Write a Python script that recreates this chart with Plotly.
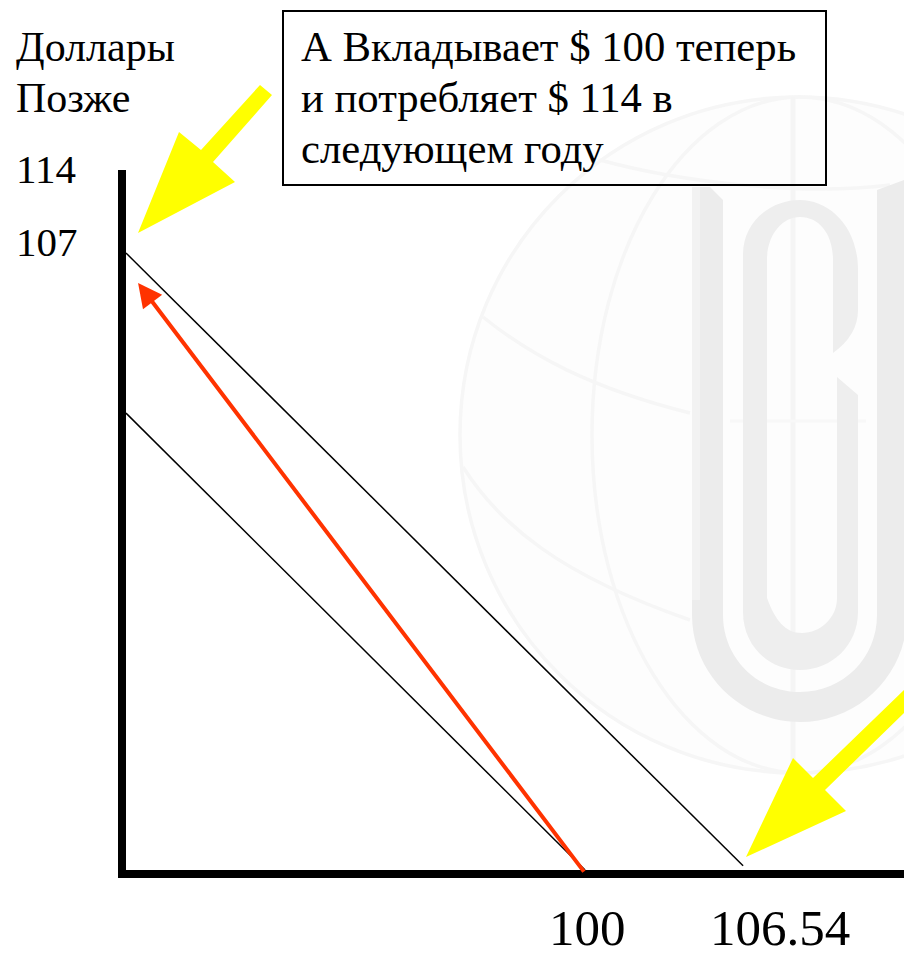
import plotly.graph_objects as go

# ---- chart values (dollars now / dollars later) ----
x_tick_values = [100, 106.54]
x_tick_labels = ["100", "106.54"]
y_tick_values = [114, 107]
y_tick_labels = ["114", "107"]
y_axis_title = ["Доллары", "Позже"]
callout_lines = ["А Вкладывает $ 100 теперь", "и потребляет $ 114 в", "следующем году"]

budget_now_x = [81.0, 100.0]
budget_now_y = [90.7, 46.9]
budget_later_x = [81.0, 106.54]
budget_later_y = [106.04, 47.3]
invest_from = (100.0, 46.6)
invest_to = (81.5, 103.17)

# Decorative arrows and watermark, in page pixels
yellow_arrow_top_x = [260, 272, 213, 235, 138, 179, 201]
yellow_arrow_top_y = [85, 95, 162, 182, 233, 132, 150]
yellow_arrow_bottom_x = [904, 813, 793, 746, 846, 825, 904]
yellow_arrow_bottom_y = [690, 778, 758, 857, 811, 790, 713]

W, H = 904, 957
FONT = "Liberation Serif"


def ellipse(cx, cy, rx, ry):
    k = 0.5523
    return (f"M {cx-rx} {cy} C {cx-rx} {cy-k*ry}, {cx-k*rx} {cy-ry}, {cx} {cy-ry} "
            f"C {cx+k*rx} {cy-ry}, {cx+rx} {cy-k*ry}, {cx+rx} {cy} "
            f"C {cx+rx} {cy+k*ry}, {cx+k*rx} {cy+ry}, {cx} {cy+ry} "
            f"C {cx-k*rx} {cy+ry}, {cx-rx} {cy+k*ry}, {cx-rx} {cy} Z")


THIN = "#f6f6f6"
BAND = "#ececec"
INNER = "#eeeeee"
page = dict(xref="x", yref="y", layer="below")
shapes = [
    dict(type="path", path=ellipse(798, 435, 338, 338), line=dict(color=THIN, width=3.5), fillcolor="#fdfdfd", **page),
    dict(type="path", path=ellipse(800, 435, 208, 338), line=dict(color=THIN, width=3.5), **page),
    dict(type="path", path="M 483 317 C 530 355, 590 388, 690 413", line=dict(color=THIN, width=3.5), **page),
    dict(type="path", path="M 463 467 C 500 525, 560 575, 690 620", line=dict(color=THIN, width=3.5), **page),
    dict(type="path", path="M 600 160 C 680 182, 800 196, 890 185", line=dict(color=THIN, width=3.5), **page),
    dict(type="path", path="M 793 97 L 793 770", line=dict(color="#f5f5f5", width=5), **page),
    dict(type="path", path="M 730 421 L 866 421", line=dict(color="#f8f8f8", width=3), **page),
    # outer U
    dict(type="path",
         path=("M 692 187 L 710 187 L 723 200 L 723 615 C 723 658, 757 692, 800 692 "
               "C 843 692, 877 658, 877 615 L 877 190 L 904 180 L 910 180 L 907 615 "
               "C 907 674, 859 722, 800 722 C 741 722, 692 674, 692 615 Z"),
         line=dict(width=0), fillcolor=BAND, **page),
    # lighter stripe on the outer left bar
    dict(type="path", path="M 692 187 L 700 187 L 700 600 L 692 600 Z", line=dict(width=0), fillcolor="#f2f2f2", **page),
    # inner letter: arch and U
    dict(type="path",
         path=("M 743 255 C 743 220, 772 200, 800 200 C 828 200, 858 225, 858 270 L 858 310 "
               "Q 858 335, 833 353 L 833 260 C 833 235, 820 217, 800 217 C 782 217, 767 235, 767 260 "
               "L 767 598 C 775 620, 785 633, 802 633 C 820 633, 837 618, 837 598 L 837 377 L 858 395 "
               "L 858 612 C 858 645, 832 670, 800 670 C 768 670, 743 645, 743 612 Z"),
         line=dict(width=0), fillcolor=INNER, **page),
    # callout box
    dict(type="rect", xref="x", yref="y", x0=283, x1=826, y0=11, y1=185,
         line=dict(color="black", width=2), layer="above"),
]

fig = go.Figure()
# Page layer: decorative polygons
for xs, ys in ((yellow_arrow_top_x, yellow_arrow_top_y), (yellow_arrow_bottom_x, yellow_arrow_bottom_y)):
    fig.add_trace(go.Scatter(x=xs, y=ys, mode="lines", fill="toself", fillcolor="#ffff00",
                             line=dict(width=0, color="#ffff00"), xaxis="x", yaxis="y",
                             hoverinfo="skip", showlegend=False))
# Data layer
for xs, ys in ((budget_now_x, budget_now_y), (budget_later_x, budget_later_y)):
    fig.add_trace(go.Scatter(x=xs, y=ys, mode="lines", line=dict(color="black", width=1.5),
                             xaxis="x2", yaxis="y2", showlegend=False))

annotations = []
for i, t in enumerate(y_axis_title):
    annotations.append(dict(text=t, xref="x", yref="y", x=14, y=47 + 51 * i, xanchor="left", yanchor="middle",
                            showarrow=False, font=dict(family=FONT, size=42, color="black")))
for i, t in enumerate(callout_lines):
    annotations.append(dict(text=t, xref="x", yref="y", x=299, y=46 + 51 * i, xanchor="left", yanchor="middle",
                            showarrow=False, font=dict(family=FONT, size=42.7, color="black")))
for v, t in zip(y_tick_values, y_tick_labels):
    annotations.append(dict(text=t, xref="paper", yref="y2", x=14 / W, y=v, yshift=1, xanchor="left", yanchor="middle",
                            showarrow=False, font=dict(family=FONT, size=41, color="black")))
for v, t, shift in zip(x_tick_values, x_tick_labels, (2, 37)):
    annotations.append(dict(text=t, xref="x2", yref="y", x=v, y=928, xshift=shift, xanchor="center",
                            yanchor="middle", height=50, valign="middle", showarrow=False,
                            font=dict(family=FONT, size=51, color="black")))
annotations.append(dict(x=invest_to[0], y=invest_to[1], ax=invest_from[0], ay=invest_from[1],
                        xref="x2", yref="y2", axref="x2", ayref="y2", text="", showarrow=True,
                        arrowhead=2, arrowsize=1.2, arrowwidth=4, arrowcolor="#ff3300", standoff=0))

hidden = dict(visible=False, fixedrange=True)
fig.update_layout(
    width=W, height=H, margin=dict(l=0, r=0, t=0, b=0),
    paper_bgcolor="white", plot_bgcolor="rgba(0,0,0,0)", showlegend=False,
    xaxis=dict(range=[0, W], domain=[0, 1], anchor="y", **hidden),
    yaxis=dict(range=[H, 0], domain=[0, 1], anchor="x", **hidden),
    xaxis2=dict(range=[81.0, 113.2], domain=[126 / W, 1], anchor="y2", showline=True, linecolor="black",
                linewidth=8, showgrid=False, zeroline=False, tickvals=x_tick_values, ticks="",
                showticklabels=False, fixedrange=True),
    yaxis2=dict(range=[46.9, 114], domain=[1 - 870 / H, 1 - 170 / H], anchor="x2", showline=True,
                linecolor="black", linewidth=8, showgrid=False, zeroline=False, tickvals=y_tick_values,
                ticks="", showticklabels=False, fixedrange=True),
    shapes=shapes, annotations=annotations,
)
fig.write_html("out.html", config=dict(displayModeBar=False),
               post_script="document.documentElement.style.margin='0';document.body.style.margin='0';document.body.style.overflow='hidden';")
